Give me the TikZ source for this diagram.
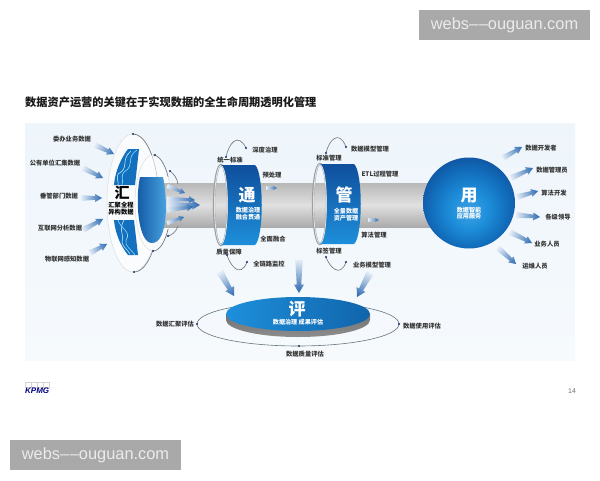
\documentclass[tikz,border=0pt]{standalone}
\usepackage{fontspec}
\setmainfont{Noto Sans CJK SC}
\newfontfamily\latinfont{Liberation Sans}
\usetikzlibrary{calc}
\definecolor{panelT}{HTML}{EEF5FB}
\definecolor{panelB}{HTML}{F6FAFD}
\definecolor{bandT}{HTML}{0F4F9C}
\definecolor{bandM}{HTML}{1270BE}
\definecolor{bandB}{HTML}{1E8FDB}
\definecolor{arrowHead}{HTML}{2A68B0}
\definecolor{arrowTail}{HTML}{E4EDF6}
\definecolor{orbit}{HTML}{6A747F}
\definecolor{dotc}{HTML}{1B2F6B}
\definecolor{wm}{HTML}{A9A9A9}
\pgfdeclareradialshading{ballblue}{\pgfpoint{0bp}{-5bp}}{color(0bp)=(bandB!85!white);color(10bp)=(bandB);color(20bp)=(bandM);color(30bp)=(bandT);color(50bp)=(bandT)}
\tikzset{
  lbl/.style={font=\bfseries\fontsize{6.3}{7}\selectfont,text=black!80,inner sep=0pt},
  capw/.style={font=\bfseries\fontsize{6.1}{7}\selectfont,text=white,inner sep=0pt},
  bigw/.style={font=\bfseries\fontsize{17}{18}\selectfont,text=white,inner sep=0pt},
  orbitline/.style={draw=orbit,line width=0.6pt},
  dotn/.style={circle,fill=dotc,inner sep=0pt,minimum size=2.4pt},
  wmbox/.style={fill=wm,text=white!92!black,inner sep=0pt,minimum width=171pt,minimum height=30pt,font=\latinfont\fontsize{16.4}{18}\selectfont},
}
\newcommand{\farrow}[5][4]{% [half width]{x1}{y1}{x2}{y2}
  \pgfmathsetmacro{\fang}{atan2(-(#5-#3),#4-#2)}
  \pgfmathsetmacro{\flen}{veclen(#4-#2,#5-#3)}
  \pgfmathsetmacro{\fneck}{\flen-#1*1.7}
  \begin{scope}[transform canvas={shift={(#2,#3)},rotate=\fang}]
    \path[left color=arrowTail,right color=arrowHead]
      (0,-#1*0.75) -- (\fneck,-#1*0.45) -- (\fneck,-#1) -- (\flen,0) -- (\fneck,#1) -- (\fneck,#1*0.45) -- (0,#1*0.75) -- cycle;
  \end{scope}
}
\begin{document}
\begin{tikzpicture}[x=1pt,y=-1pt]
\useasboundingbox (0,0) rectangle (600,480);
\fill[white] (0,0) rectangle (600,480);
% panel
\path[top color=panelT,bottom color=panelB] (25,123) rectangle (575,360);
% title
\node[anchor=west,inner sep=0pt,font=\bfseries\fontsize{11.2}{13}\selectfont,text=black!90] (title) at (25,102) {数据资产运营的关键在于实现数据的全生命周期透明化管理};
% pipe
\path[top color=black!28,bottom color=black!33,middle color=black!12] (165,183) rectangle (450,227);
% outer ellipses of hui
\draw[fill=white,fill opacity=.65,draw=white!88!black,line width=0.6pt] (133,203) ellipse [x radius=26pt,y radius=69pt];
\draw[orbitline] (133,134) arc[start angle=90,end angle=22,x radius=26pt,y radius=69pt];
\draw[orbitline] (134,272) arc[start angle=-90,end angle=-44,x radius=26pt,y radius=69pt];
% blue panels of hui
\fill[bandM] (128,149) -- (139,149) -- (135,185) -- (114,185) .. controls (115,172) and (121,158) .. (128,149) -- cycle;
\fill[bandM] (114,220) -- (134,220) -- (138,255) -- (128,255) .. controls (120,245) and (115,232) .. (114,220) -- cycle;
\draw[cyan!45!white,line width=0.6pt] (137,150) .. controls (125,158) and (136,165) .. (124,172) .. controls (120,176) and (124,180) .. (122,185);
\draw[cyan!25!white,line width=0.6pt] (131,151) .. controls (120,160) and (130,168) .. (118,174) .. controls (116,178) and (119,182) .. (118,185);
\draw[cyan!45!white,line width=0.6pt] (118,220) .. controls (120,228) and (132,232) .. (126,240) .. controls (124,246) and (132,250) .. (135,255);
\draw[cyan!25!white,line width=0.6pt] (124,220) .. controls (118,230) and (125,236) .. (122,242) .. controls (122,246) and (128,250) .. (130,254);
% second ellipse
\draw[fill=white,fill opacity=.6,draw=white!88!black,line width=0.6pt] (153,203) ellipse [x radius=18pt,y radius=48pt];
\draw[orbitline] (153,155) arc[start angle=90,end angle=33,x radius=18pt,y radius=48pt];
\draw[orbitline] (153,251) arc[start angle=-90,end angle=-33,x radius=18pt,y radius=48pt];
% pipe part in front of second ellipse
\path[top color=black!28,bottom color=black!33,middle color=black!12] (164,183) rectangle (172,227);
% third arcs
\draw[orbitline] (170,171) .. controls (174,174) and (177,178) .. (178,184);
\draw[orbitline] (178,226) .. controls (176,232) and (172,235) .. (168,236);
% core
\path[left color=bandT!80!bandM,right color=bandB!80!white] (140,177) -- (163,177) .. controls (168,200) and (168,243) .. (152,243) .. controls (138,243) and (135,200) .. (140,177) -- cycle;
% dots of hui
\node[dotn] (d1) at (133,134) {};
\node[dotn] (d2) at (134,272) {};
\node[dotn] (d3) at (155,155) {};
\node[dotn] (d4) at (153,251) {};
\node[dotn] (d5) at (170,171) {};
\node[dotn] (d6) at (168,236) {};
% hui arrows
\farrow[3]{167}{186}{185}{193}
\farrow[3.5]{167}{199}{195}{200}
\farrow[4.5]{167}{205}{200}{205}
\farrow[3.5]{167}{210}{193}{207}
\farrow[3]{167}{223}{184}{217}
% hui text
\node[inner sep=0pt,font=\bfseries\fontsize{15}{16}\selectfont,text=black] (hui) at (122,193) {汇};
\node[lbl,text=black] (huia) at (121,205) {汇聚全程};
\node[lbl,text=black] (huib) at (121,212) {异构数据};
% left labels and arrows
\node[lbl] (l1) at (72,139) {委办业务数据};
\node[lbl] (l2) at (55,163) {公有单位汇集数据};
\node[lbl] (l3) at (59,196) {垂管部门数据};
\node[lbl] (l4) at (60,228) {互联网分析数据};
\node[lbl] (l5) at (67,259) {物联网感知数据};
\farrow{95}{145}{114}{154}
\farrow{83}{168}{103}{178}
\farrow{81}{198}{102}{198}
\farrow{83}{230}{103}{219}
\farrow{90}{253}{107}{244}
% tong ring
\draw[orbit!70,line width=2.2pt] (221,205) ellipse [x radius=7pt,y radius=40pt];
\draw[white!90!black,line width=0.8pt] (221,205) ellipse [x radius=6.5pt,y radius=39.5pt];
\path[top color=bandT,middle color=bandM,bottom color=bandB] (221,165) .. controls (230.3,165) and (230.3,245) .. (221,245) -- (255,245) .. controls (264,238) and (264,172) .. (255,165) -- cycle;
\draw[orbitline] (226,157) .. controls (229,143) and (238,132) .. (246,148);
\draw[orbitline] (227,255) .. controls (230,265) and (240,279) .. (247,262);
\node[dotn] (t1) at (226,157) {};
\node[dotn] (t2) at (246,148) {};
\node[dotn] (t3) at (227,255) {};
\node[dotn] (t4) at (247,262) {};
\node[bigw] (tong) at (247,195) {通};
\node[capw] (tonga) at (248,210) {数据治理};
\node[capw] (tongb) at (248,217) {融合贯通};
\farrow[2.5]{266}{188}{277}{188}
\node[lbl] (t5) at (230,160) {统一标准};
\node[lbl] (t6) at (265,150) {深度治理};
\node[lbl] (t7) at (272,175) {预处理};
\node[lbl] (t8) at (273,239) {全面融合};
\node[lbl] (t9) at (229,252) {质量保障};
\node[lbl] (t10) at (269,264) {全链路监控};
% guan ring
\draw[orbit!70,line width=2.2pt] (320,204) ellipse [x radius=7pt,y radius=40pt];
\draw[white!90!black,line width=0.8pt] (320,204) ellipse [x radius=6.5pt,y radius=39.5pt];
\path[top color=bandT,middle color=bandM,bottom color=bandB] (320,164) .. controls (329.3,164) and (329.3,244) .. (320,244) -- (354,244) .. controls (363,237) and (363,171) .. (354,164) -- cycle;
\draw[orbitline] (326,153) .. controls (329,140) and (339,129) .. (346,147);
\draw[orbitline] (326,257) .. controls (329,266) and (340,279) .. (346,262);
\node[dotn] (g1) at (326,153) {};
\node[dotn] (g2) at (346,147) {};
\node[dotn] (g3) at (326,257) {};
\node[dotn] (g4) at (346,262) {};
\node[bigw] (guan) at (344,195) {管};
\node[capw] (guana) at (346,211) {全量数据};
\node[capw] (guanb) at (346,218) {资产管理};
\farrow[2.5]{368}{220}{379}{220}
\node[lbl] (g5) at (370,149) {数据模型管理};
\node[lbl] (g6) at (329,158) {标准管理};
\node[lbl] (g7) at (380,174) {ETL过程管理};
\node[lbl] (g8) at (374,235) {算法管理};
\node[lbl] (g9) at (329,251) {标签管理};
\node[lbl] (g10) at (372,265) {业务模型管理};
% yong ball
\path[shading=ballblue] (469,203) ellipse [x radius=46pt,y radius=45.5pt];
\node[bigw] (yong) at (469,196) {用};
\node[capw] (yonga) at (469,210) {数据智能};
\node[capw] (yongb) at (469,216) {应用服务};
\farrow{503}{158}{522}{147}
\farrow{511}{178}{533}{168}
\farrow{517}{197}{538}{191}
\farrow{516}{215}{540}{217}
\farrow{510}{232}{532}{243}
\farrow{498}{248}{516}{264}
\node[lbl] (y1) at (541,148) {数据开发者};
\node[lbl] (y2) at (552,170) {数据管理员};
\node[lbl] (y3) at (554,193) {算法开发};
\node[lbl] (y4) at (558,217) {各级领导};
\node[lbl] (y5) at (547,244) {业务人员};
\node[lbl] (y6) at (535,266) {运维人员};
% ping
\draw[orbitline] (298,324) ellipse [x radius=101pt,y radius=22pt];
\path[top color=black!55,bottom color=black!45] (226,314) -- (226,320) arc[start angle=180,end angle=360,x radius=72pt,y radius=17pt] -- (370,314) -- cycle;
\path[left color=bandB,right color=bandM!90!black] (298,314) ellipse [x radius=72pt,y radius=17pt];
\node[dotn] (e1) at (197,324) {};
\node[dotn] (e2) at (399,324) {};
\node[dotn] (e3) at (299,346) {};
\node[bigw] (ping) at (297,309) {评};
\node[capw] (pinga) at (298,322) {数据治理 成果评估};
\node[lbl] (e4) at (175,324) {数据汇聚评估};
\node[lbl] (e5) at (422,326) {数据使用评估};
\node[lbl] (e6) at (305,354) {数据质量评估};
\farrow[5]{220}{272}{234}{296}
\farrow[5]{299}{260}{299}{293}
\farrow[5]{370}{273}{357}{297}
% footer
\foreach \i in {0,1,2,3} \draw[black!18,line width=0.3pt] (25.5+\i*6,382) rectangle ++(5.5,5);
\node[anchor=west,inner sep=0pt,font=\latinfont\bfseries\itshape\fontsize{8}{9}\selectfont,text=blue!50!black] (kpmg) at (25,391) {KPMG};
\node[inner sep=0pt,font=\latinfont\fontsize{7}{8}\selectfont,text=black!55] (pg) at (572,391) {14};
% watermarks
\node[wmbox] (w1) at (504.5,25) {webs–\kern0.6pt–ouguan.com};
\node[wmbox] (w2) at (95.5,455) {webs–\kern0.6pt–ouguan.com};
\end{tikzpicture}
\end{document}
